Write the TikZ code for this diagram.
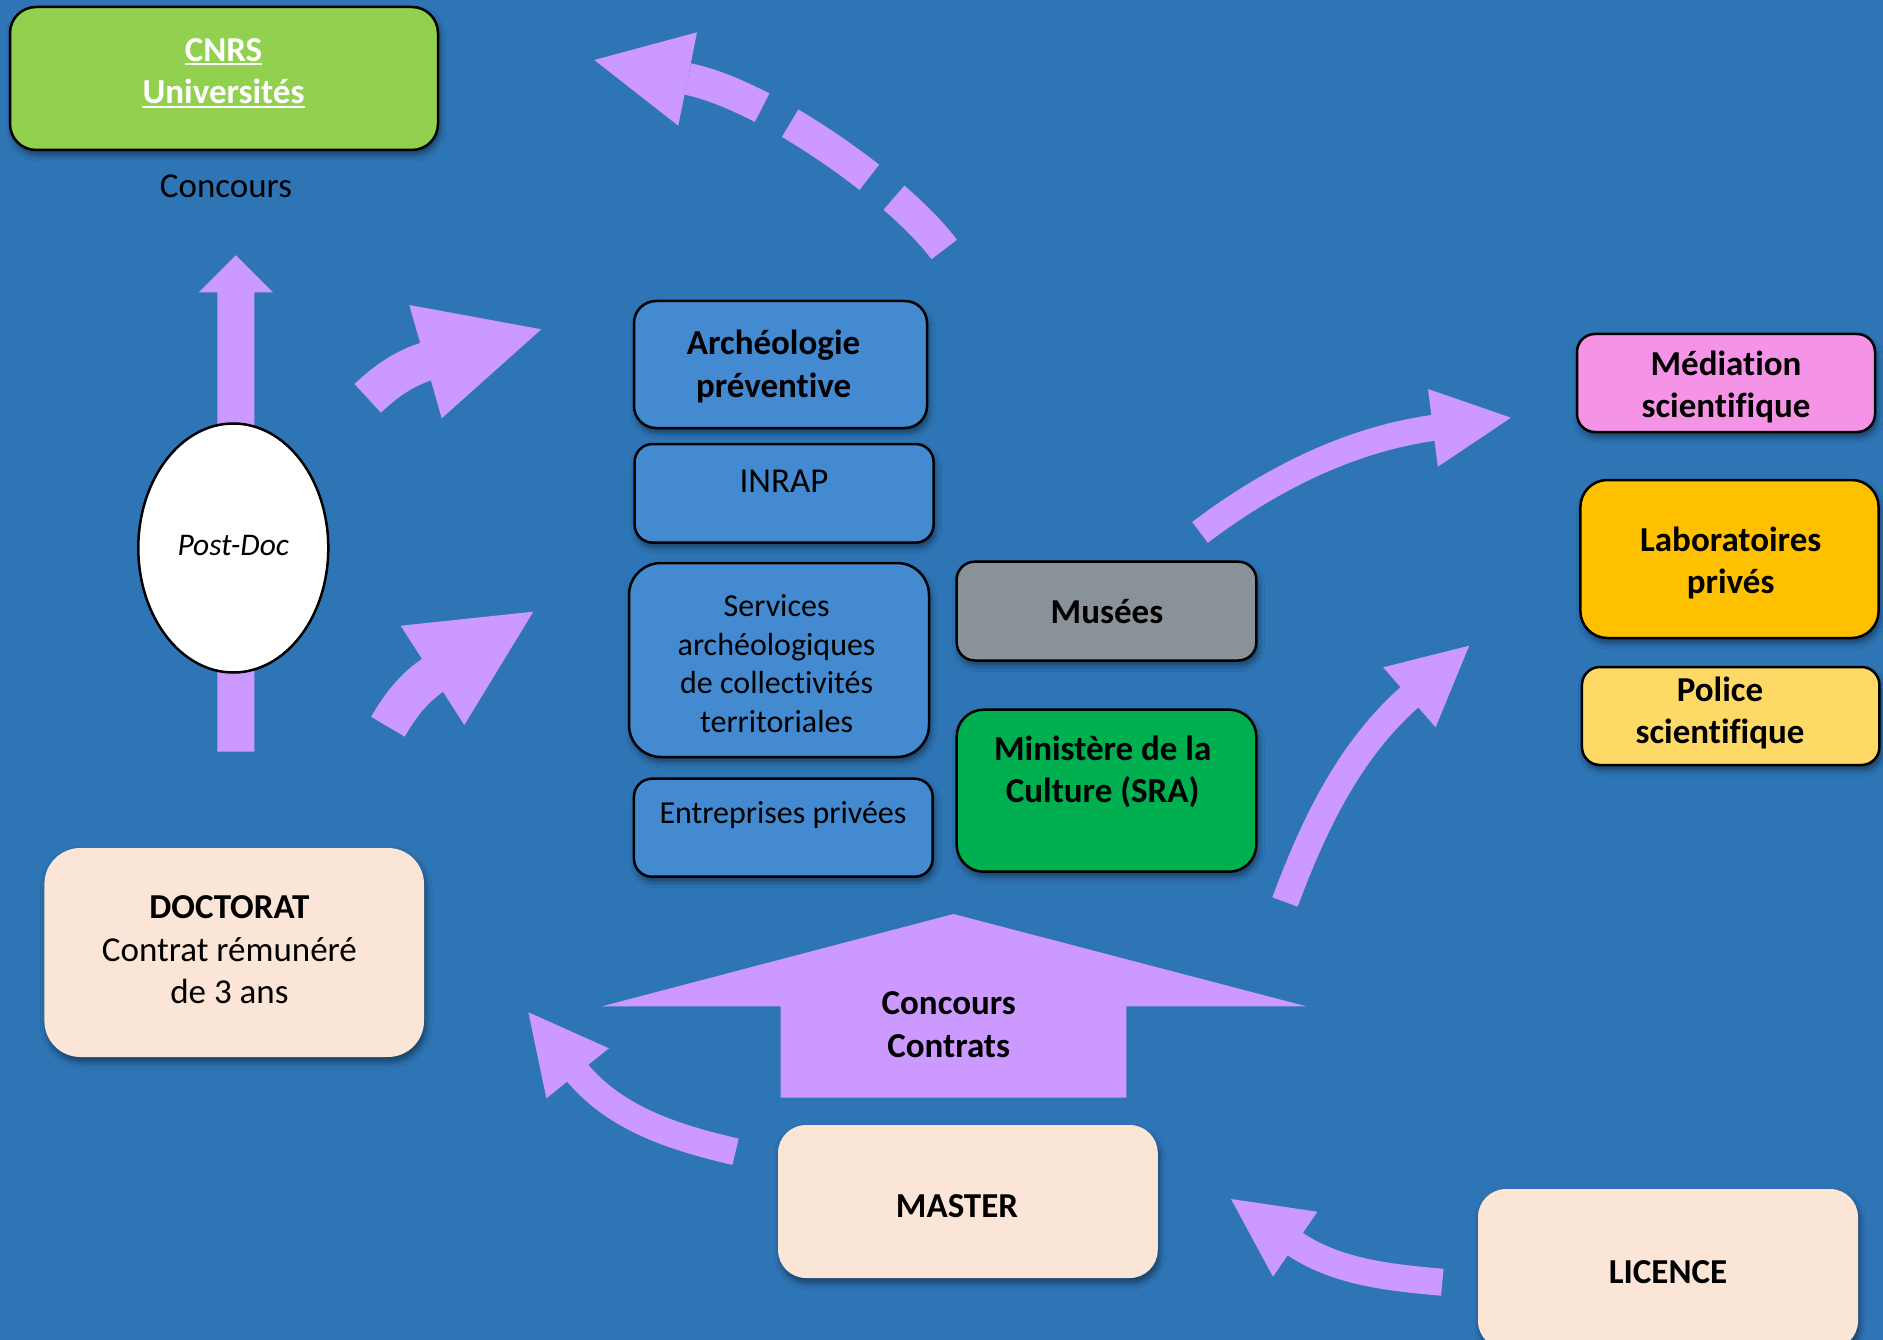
\documentclass[tikz,border=0pt]{standalone}
\usepackage{fontspec}
\setmainfont{Carlito}[Ligatures=NoCommon]
\usetikzlibrary{shapes.geometric,shadows.blur}
\definecolor{bgc}{RGB}{46,117,182}
\definecolor{arrowc}{RGB}{204,153,255}
\definecolor{boxblue}{RGB}{67,138,208}
\definecolor{greyc}{RGB}{137,145,153}
\definecolor{greenc}{RGB}{0,176,80}
\definecolor{limec}{RGB}{146,208,80}
\definecolor{pinkc}{RGB}{245,148,230}
\definecolor{orangec}{RGB}{255,192,0}
\definecolor{yellowc}{RGB}{255,217,102}
\definecolor{peachc}{RGB}{251,229,214}
\begin{document}
\begin{tikzpicture}[x=1pt,y=-1pt,
  shd/.style={blur shadow={shadow xshift=2pt,shadow yshift=-5pt,shadow blur radius=6pt,shadow opacity=45}},
  box/.style={draw=black,line width=2.5pt,rounded corners=#1,shd,inner sep=0pt},
  pbox/.style={rounded corners=#1,shd,inner sep=0pt,fill=peachc},
  lbl/.style={inner sep=0pt,align=center,text=black,font=\fontsize{35}{42.5}\selectfont},
  blbl/.style={lbl,font=\bfseries\fontsize{35}{42.5}\selectfont},
  slbl/.style={lbl,font=\fontsize{32}{38.5}\selectfont},
  shaft/.style={draw=arrowc,line cap=butt}
]
\useasboundingbox (0,0) rectangle (1883,1340);
\fill[bgc] (0,0) rectangle (1883,1340);

% ---------- vertical arrow behind Post-Doc
\fill[arrowc] (217.3,751.7) -- (217.3,292.3) -- (198.7,292.3) -- (235.8,255.3)
  -- (273,292.3) -- (254.3,292.3) -- (254.3,751.7) -- cycle;

% ---------- curved arrows
% A : Post-Doc -> Archeologie
\coordinate (aT) at (367.7,398.3); \coordinate (aB) at (425.5,361.7);
\draw[shaft,line width=39pt,shorten >=-4pt] (aT) .. controls (384.5,382.6) and (403.4,368) .. (aB);
\fill[arrowc] (409.3,305) -- (541.3,329.3) -- (441.7,418.3) -- cycle;
% B : Post-Doc -> Services
\coordinate (bT) at (387.9,726.7); \coordinate (bB) at (432.5,675.3);
\draw[shaft,line width=39pt,shorten >=-4pt] (bT) .. controls (399.5,706.8) and (413.1,687.7) .. (bB);
\fill[arrowc] (400.7,625.7) -- (533.3,611.7) -- (464.3,725) -- cycle;
% C : dashed, Archeologie -> CNRS
\coordinate (cH) at (687.7,79); \coordinate (cT) at (944.2,249.5);
\draw[shaft,line width=32pt,dash pattern=on 96pt off 32pt,dash phase=16pt] (cH) .. controls (764.1,94.3) and (897.4,187.1) .. (cT);
\fill[arrowc] (697,32.3) -- (594.3,60) -- (678.3,125.7) -- cycle;
% D : Master -> Doctorat
\coordinate (dT) at (735.5,1151.8); \coordinate (dB) at (577.7,1073.3);
\draw[shaft,line width=27pt,shorten >=-4pt] (dT) .. controls (677.1,1138) and (615.4,1120) .. (dB);
\fill[arrowc] (608.9,1048.3) -- (528.4,1012.3) -- (546.4,1098.3) -- cycle;
% E : Licence -> Master
\coordinate (eT) at (1442.3,1282.3); \coordinate (eB) at (1295.2,1244.2);
\draw[shaft,line width=27pt,shorten >=-4pt] (eT) .. controls (1392.5,1277.7) and (1336.1,1273) .. (eB);
\fill[arrowc] (1317.4,1211.7) -- (1231,1199) -- (1273,1276.7) -- cycle;
% F : -> Mediation
\coordinate (fT) at (1200,532.4); \coordinate (fB) at (1432.9,427.9);
\draw[shaft,line width=26pt,shorten >=-4pt] (fT) .. controls (1267.7,481.1) and (1348.6,438.9) .. (fB);
\fill[arrowc] (1428,389) -- (1511,417.7) -- (1437.8,466.7) -- cycle;
% G : -> Laboratoires
\coordinate (gT) at (1285,902); \coordinate (gB) at (1409.4,697.3);
\draw[shaft,line width=27pt,shorten >=-4pt] (gT) .. controls (1313,827) and (1348.8,749.5) .. (gB);
\fill[arrowc] (1383.1,667.3) -- (1469.2,645.7) -- (1435.6,727.3) -- cycle;

% ---------- big up arrow
\fill[arrowc] (780.6,1097.6) -- (780.6,1006.4) -- (601.7,1006.4) -- (953.5,914)
  -- (1306.6,1006.4) -- (1126.4,1006.4) -- (1126.4,1097.6) -- cycle;
\node[blbl] (concT) at (948.7,1024.5) {Concours\\Contrats};

% ---------- CNRS
\node[box=26pt,fill=limec,minimum width=428pt,minimum height=143pt] (cnrs) at (224,78.5) {};
\node[blbl,text=white,anchor=base] (cnrsA) at (223.5,61.5) {CNRS};
\node[blbl,text=white,anchor=base] (cnrsB) at (223.5,104) {Universités};
\draw[white,line width=2pt] ([yshift=-3pt]cnrsA.base west) -- ([yshift=-3pt]cnrsA.base east);
\draw[white,line width=2pt] ([yshift=-3pt]cnrsB.base west) -- ([yshift=-3pt]cnrsB.base east);
\node[lbl] (concours) at (226,186) {Concours};

% ---------- Post-Doc
\node[draw=black,line width=2.5pt,fill=white,ellipse,minimum width=190pt,minimum height=249pt,inner sep=0pt] (postdoc) at (233.3,548) {};
\node[lbl,font=\itshape\fontsize{31.5}{37}\selectfont] (postdocT) at (233.3,545.5) {Post-Doc};

% ---------- blue column
\node[box=22pt,fill=boxblue,minimum width=293pt,minimum height=127pt] (archeo) at (780.5,364.5) {};
\node[blbl] (archeoT) at (773.6,366.5) {Archéologie\\préventive};
\node[box=18pt,fill=boxblue,minimum width=299pt,minimum height=98.6pt] (inrap) at (784.1,493.3) {};
\node[lbl] (inrapT) at (784,481.4) {INRAP};
\node[box=32pt,fill=boxblue,minimum width=300pt,minimum height=194pt] (services) at (779,660) {};
\node[slbl] (servicesT) at (776.6,663.5) {Services\\archéologiques\\de collectivités\\territoriales};
\node[box=18pt,fill=boxblue,minimum width=298.7pt,minimum height=98pt] (entreprises) at (783.3,827.7) {};
\node[slbl] (entreprisesT) at (783,815) {Entreprises privées};

% ---------- middle column
\node[box=18pt,fill=greyc,minimum width=299.7pt,minimum height=98.8pt] (musees) at (1106.5,611.1) {};
\node[blbl] (museesT) at (1107,611.5) {Musées};
\node[box=27pt,fill=greenc,minimum width=299.7pt,minimum height=162pt] (ministere) at (1106.5,790.7) {};
\node[blbl] (ministereT) at (1102.7,772) {Ministère de la\\Culture (SRA)};

% ---------- right column
\node[box=18pt,fill=pinkc,minimum width=298pt,minimum height=98pt] (mediation) at (1726,383) {};
\node[blbl] (mediationT) at (1726,387) {Médiation\\scientifique};
\node[box=27pt,fill=orangec,minimum width=298.2pt,minimum height=158pt] (labo) at (1729.5,559) {};
\node[blbl] (laboT) at (1730.7,563) {Laboratoires\\privés};
\node[box=18pt,fill=yellowc,minimum width=297.5pt,minimum height=98pt] (police) at (1730.7,716) {};
\node[blbl] (policeT) at (1720,713) {Police\\scientifique};

% ---------- degrees
\node[pbox=36pt,minimum width=379.6pt,minimum height=209pt] (doctorat) at (234.2,952.5) {};
\node[lbl] (doctoratT) at (229.4,950) {\textbf{DOCTORAT}\\Contrat rémunéré\\de 3 ans};
\node[pbox=28pt,minimum width=379.7pt,minimum height=153pt] (master) at (967.9,1201.5) {};
\node[blbl] (masterT) at (957,1205.7) {MASTER};
\node[pbox=28pt,minimum width=380pt,minimum height=160pt] (licence) at (1668,1269) {};
\node[blbl] (licenceT) at (1668,1272) {LICENCE};
\end{tikzpicture}
\end{document}
